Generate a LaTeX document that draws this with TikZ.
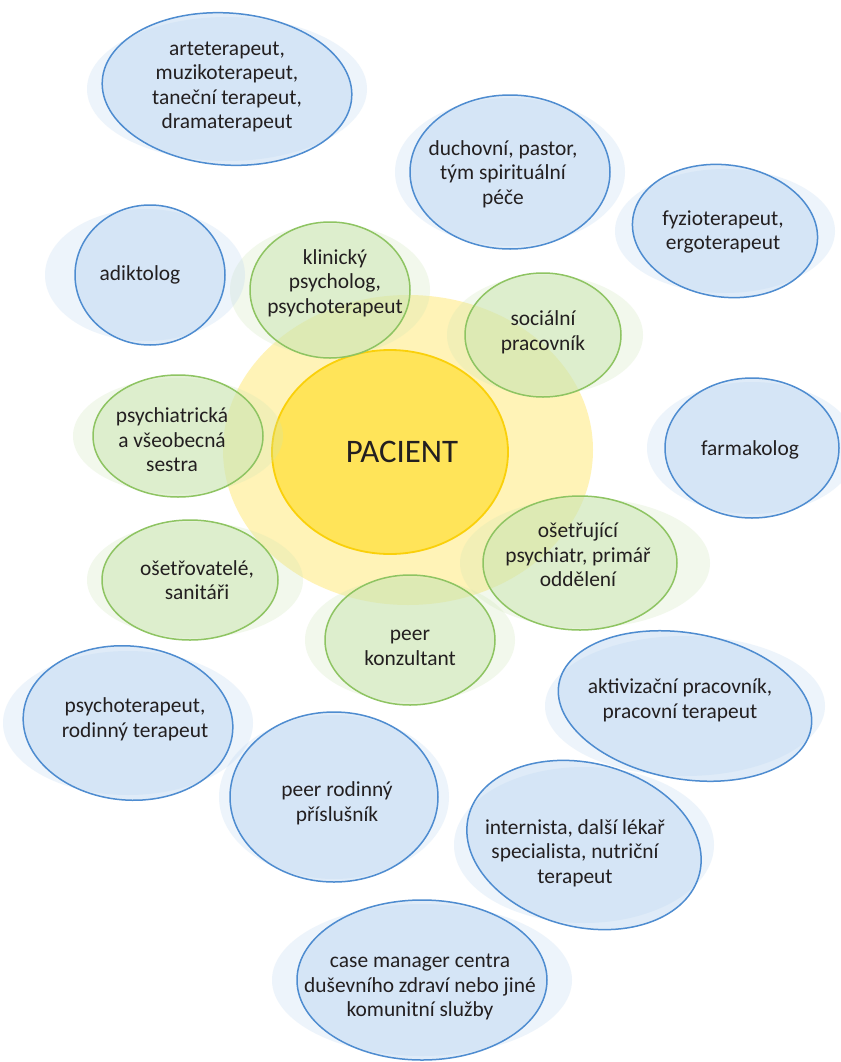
\documentclass[tikz,border=0pt]{standalone}
\usepackage{fontspec}
\setmainfont{Carlito}

\definecolor{bluepen}{RGB}{78,140,208}
\definecolor{bluefill}{RGB}{185,212,240}
\definecolor{greenpen}{RGB}{142,196,98}
\definecolor{greenfill}{RGB}{205,230,180}
\definecolor{yelpen}{RGB}{250,208,10}
\definecolor{yelfill}{RGB}{255,222,50}
\definecolor{ink}{RGB}{35,31,32}

\begin{document}
\begin{tikzpicture}[x = 1bp, y = -1bp,
		bluering/.style = {draw = bluepen, line width = 1.5bp, fill = bluefill, fill opacity = .45},
		greenring/.style = {draw = greenpen, line width = 1.5bp, fill = greenfill, fill opacity = .55},
		yelring/.style = {draw = yelpen, line width = 1.8bp, fill = yelfill, fill opacity = .7},
		haze/.style = {fill opacity = .25, draw = none},
		role/.style = {text = ink, font = \fontsize{21.5}{24.7}\selectfont, align = center, inner sep = 0pt}]
		\useasboundingbox [fill = white] (0,0) rectangle (841,1062);

		% the patient in the middle
		\fill [haze, yelfill, fill opacity = .35] (408,450) ellipse [x radius = 185, y radius = 155];
		\draw [yelring] (390,452) ellipse [x radius = 118, y radius = 102];

		% inner ring, green
		\fill [haze, greenfill] (330,290) ellipse [x radius = 100, y radius = 66];
		\draw [greenring] (330,290) ellipse [x radius = 80, y radius = 68];
		\fill [haze, greenfill] (545,335) ellipse [x radius = 98, y radius = 60];
		\draw [greenring] (543,335) ellipse [x radius = 78, y radius = 62];
		\fill [haze, greenfill] (178,436) ellipse [x radius = 105, y radius = 58];
		\draw [greenring] (178,436) ellipse [x radius = 85, y radius = 61];
		\fill [haze, greenfill] (195,580) ellipse [x radius = 108, y radius = 58];
		\draw [greenring] (190,580) ellipse [x radius = 88, y radius = 60];
		\fill [haze, greenfill] (585,563) ellipse [x radius = 125, y radius = 65];
		\draw [greenring] (580,563) ellipse [x radius = 97, y radius = 67];
		\fill [haze, greenfill] (410,640) ellipse [x radius = 105, y radius = 62];
		\draw [greenring] (410,640) ellipse [x radius = 85, y radius = 65];

		% outer ring, blue
		\fill [haze, bluefill] (227,89) ellipse [x radius = 140, y radius = 72];
		\draw [bluering, rotate around = {-4:(227,89)}] (227,89) ellipse [x radius = 125, y radius = 76];
		\fill [haze, bluefill] (510,172) ellipse [x radius = 115, y radius = 74];
		\draw [bluering] (510,172) ellipse [x radius = 100, y radius = 77];
		\fill [haze, bluefill] (725,231) ellipse [x radius = 110, y radius = 62];
		\draw [bluering, rotate around = {-8:(725,231)}] (725,231) ellipse [x radius = 93, y radius = 66];
		\fill [haze, bluefill] (145,275) ellipse [x radius = 100, y radius = 66];
		\draw [bluering] (150,275) ellipse [x radius = 75, y radius = 70];
		\fill [haze, bluefill] (752,448) ellipse [x radius = 105, y radius = 66];
		\draw [bluering] (752,448) ellipse [x radius = 87, y radius = 70];
		\fill [haze, bluefill] (128,723) ellipse [x radius = 125, y radius = 72];
		\draw [bluering, rotate around = {-5:(128,723)}] (128,723) ellipse [x radius = 105, y radius = 77];
		\fill [haze, bluefill] (685,706) ellipse [x radius = 140, y radius = 70];
		\draw [bluering, rotate around = {-10:(685,706)}] (685,706) ellipse [x radius = 128, y radius = 73];
		\fill [haze, bluefill] (334,797) ellipse [x radius = 115, y radius = 82];
		\draw [bluering] (334,797) ellipse [x radius = 104, y radius = 85];
		\fill [haze, bluefill] (584,845) ellipse [x radius = 130, y radius = 78];
		\draw [bluering, rotate around = {-14:(584,845)}] (584,845) ellipse [x radius = 119, y radius = 82];
		\fill [haze, bluefill] (422,980) ellipse [x radius = 150, y radius = 76];
		\draw [bluering] (422,980) ellipse [x radius = 125, y radius = 80];

		% texts
		\node (pac) at (402,452) [role, font = \fontsize{33}{38}\selectfont] {PACIENT};

		\node (klin) at (335,283) [role] {klinický\\psycholog,\\psychoterapeut};
		\node (soc) at (543,332) [role] {sociální\\pracovník};
		\node (sestra) at (172,440) [role] {psychiatrická\\a všeobecná\\sestra};
		\node (osetr) at (197,580) [role] {ošetřovatelé,\\sanitáři};
		\node (psychiatr) at (578,555) [role] {ošetřující\\psychiatr, primář\\oddělení};
		\node (peer) at (410,648) [role] {peer\\konzultant};

		\node (arte) at (227,87) [role] {arteterapeut,\\muzikoterapeut,\\taneční terapeut,\\dramaterapeut};
		\node (duch) at (503,174) [role] {duchovní, pastor,\\tým spirituální\\péče};
		\node (fyzio) at (723,232) [role] {fyzioterapeut,\\ergoterapeut};
		\node (adikt) at (140,275) [role] {adiktolog};
		\node (farma) at (750,450) [role] {farmakolog};
		\node (rodter) at (135,719) [role] {psychoterapeut,\\rodinný terapeut};
		\node (aktiv) at (680,700) [role] {aktivizační pracovník,\\pracovní terapeut};
		\node (peerrod) at (337,803) [role] {peer rodinný\\příslušník};
		\node (intern) at (575,853) [role] {internista, další lékař\\specialista, nutriční\\terapeut};
		\node (caseman) at (420,987) [role] {case manager centra\\duševního zdraví nebo jiné\\komunitní služby};
\end{tikzpicture}
\end{document}
